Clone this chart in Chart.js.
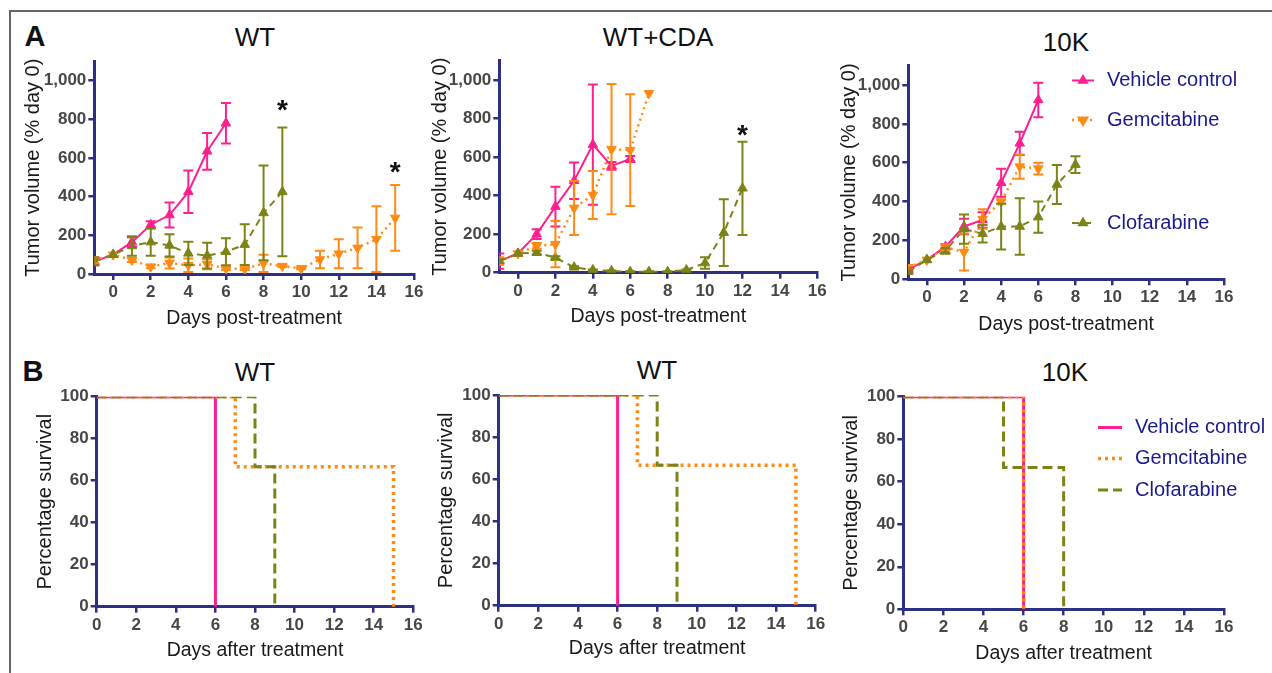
<!DOCTYPE html>
<html>
<head>
<meta charset="utf-8">
<script src="https://cdn.jsdelivr.net/npm/chart.js@4.4.1/dist/chart.umd.min.js"></script>
<style>
  html, body { margin: 0; padding: 0; background: #fff; }
  #page { position: relative; width: 1272px; height: 673px; overflow: hidden; font-family: 'Liberation Sans', Arial, sans-serif; }
  #page canvas { position: absolute; left: 0; top: 0; }
  .frame { position: absolute; left: 9px; top: 10px; width: 1300px; height: 700px; border-top: 2px solid #666; border-left: 2px solid #666; }
  .lbl { position: absolute; transform: translate(-50%, -50%); line-height: 1; white-space: nowrap; color: #111; }
  .title { font-size: 26px; }
  .letter { font-size: 29px; font-weight: bold; }
</style>
</head>
<body>
<div id="page">
  <div class="frame"></div>
  <div class="lbl letter" style="left:35px;top:36px">A</div>
  <div class="lbl letter" style="left:33px;top:371px">B</div>
  <div class="lbl title" style="left:255px;top:37px">WT</div>
  <div class="lbl title" style="left:658px;top:37px">WT+CDA</div>
  <div class="lbl title" style="left:1066px;top:42px">10K</div>
  <div class="lbl title" style="left:255px;top:372px">WT</div>
  <div class="lbl title" style="left:657px;top:370px">WT</div>
  <div class="lbl title" style="left:1065px;top:372px">10K</div>
  <canvas id="a1" width="1272" height="673"></canvas>
  <canvas id="a2" width="1272" height="673"></canvas>
  <canvas id="a3" width="1272" height="673"></canvas>
  <canvas id="b1" width="1272" height="673"></canvas>
  <canvas id="b2" width="1272" height="673"></canvas>
  <canvas id="b3" width="1272" height="673"></canvas>
</div>
<script>
// ---- data: tumor volume (% day 0), mean and error ----
const seriesNames = ['Vehicle control', 'Gemcitabine', 'Clofarabine'];

// WT
const wtVehDays = [-1, 0, 1, 2, 3, 4, 5, 6];
const wtVeh     = [65, 100, 165, 255, 305, 425, 635, 780];
const wtVehErr  = [20, 0, 25, 18, 65, 110, 95, 105];
const wtGemDays = [-1, 0, 1, 2, 3, 4, 5, 6, 7, 8, 9, 10, 11, 12, 13, 14, 15];
const wtGem     = [70, 100, 72, 38, 57, 45, 50, 29, 26, 55, 41, 29, 75, 105, 135, 180, 290];
const wtGemErr  = [15, 0, 10, 8, 28, 35, 25, 8, 5, 45, 5, 5, 45, 75, 105, 170, 170];
const wtClofDays = [-1, 0, 1, 2, 3, 4, 5, 6, 7, 8, 9];
const wtClof     = [65, 100, 145, 165, 148, 107, 95, 115, 152, 316, 425];
const wtClofErr  = [20, 0, 50, 70, 58, 60, 67, 70, 105, 245, 333];
const wtStarDays = [9, 15];
const wtStarVals = [885, 560];

// WT+CDA
const cdaVehDays = [-1, 0, 1, 2, 3, 4, 5, 6];
const cdaVeh     = [60, 100, 200, 343, 477, 665, 554, 590];
const cdaVehErr  = [40, 0, 25, 103, 95, 312, 20, 15];
const cdaGemDays = [-1, 0, 1, 2, 3, 4, 5, 6, 7];
const cdaGem     = [60, 100, 139, 148, 336, 403, 641, 636, 931];
const cdaGemErr  = [20, 0, 15, 120, 140, 125, 338, 290, 0];
const cdaClofDays = [-1, 0, 1, 2, 3, 4, 5, 6, 7, 8, 9, 10, 11, 12];
const cdaClof     = [60, 100, 104, 78, 28, 14, 9, 5, 5, 5, 14, 50, 208, 438];
const cdaClofErr  = [10, 0, 10, 8, 5, 3, 3, 3, 3, 3, 3, 30, 173, 242];
const cdaStarDays = [12];
const cdaStarVals = [750];

// 10K
const kVehDays = [-1, 0, 1, 2, 3, 4, 5, 6];
const kVeh     = [50, 100, 168, 272, 305, 497, 700, 923];
const kVehErr  = [10, 0, 12, 40, 40, 72, 60, 89];
const kGemDays = [-1, 0, 1, 2, 3, 4, 5, 6];
const kGem     = [62, 100, 165, 140, 310, 400, 580, 570];
const kGemErr  = [10, 0, 15, 95, 50, 10, 62, 30];
const kClofDays = [-1, 0, 1, 2, 3, 4, 5, 6, 7, 8];
const kClof     = [40, 100, 147, 258, 235, 271, 272, 320, 488, 590];
const kClofErr  = [10, 0, 15, 75, 45, 118, 145, 80, 100, 43];

// ---- data: survival (%), step points ----
const survWtVehT = [0, 6],     survWtVehS = [100, 0];
const survWtGemT = [0, 7, 15], survWtGemS = [100, 66.7, 0];
const survWtClofT = [0, 8, 9], survWtClofS = [100, 66.7, 0];
const survKVehT = [0, 6],      survKVehS = [100, 0];
const survKGemT = [0, 6],      survKGemS = [100, 0];
const survKClofT = [0, 5, 8],  survKClofS = [100, 66.7, 0];

// ---- styles ----
const navy = '#2d3183';
const colVeh = '#ff1f8e', colGem = '#ff8a14', colClof = '#7d8417';
const legendText = '#1b1b8f';
Chart.defaults.font.family = "'Liberation Sans', Arial, sans-serif";

const pts = (xs, ys) => xs.map((x, i) => ({ x: x, y: ys[i] }));

// error bars drawn from each dataset's errors array
const errorBars = {
    id: 'errorBars',
    afterDatasetsDraw(chart) {
        const ctx = chart.ctx;
        const ys = chart.scales.y;
        const area = chart.chartArea;
        chart.data.datasets.forEach((ds, i) => {
            if (!ds.errors) return;
            const meta = chart.getDatasetMeta(i);
            ctx.save();
            ctx.beginPath();
            ctx.rect(area.left, area.top - 10, area.right - area.left + 10, area.bottom - area.top + 10);
            ctx.clip();
            ctx.strokeStyle = ds.borderColor;
            ctx.lineWidth = 2;
            ctx.setLineDash([]);
            meta.data.forEach((p, j) => {
                const e = ds.errors[j];
                if (!e) return;
                const v = ds.data[j].y;
                const top = ys.getPixelForValue(v + e);
                const bot = ys.getPixelForValue(Math.max(v - e, 0));
                ctx.beginPath();
                ctx.moveTo(p.x, top); ctx.lineTo(p.x, bot);
                ctx.moveTo(p.x - 5, top); ctx.lineTo(p.x + 5, top);
                ctx.moveTo(p.x - 5, bot); ctx.lineTo(p.x + 5, bot);
                ctx.stroke();
            });
            ctx.restore();
        });
    }
};

// significance asterisks placed by value
const stars = {
    id: 'stars',
    afterDatasetsDraw(chart, args, opts) {
        if (!opts.days) return;
        const ctx = chart.ctx;
        ctx.save();
        ctx.fillStyle = '#111';
        ctx.font = "bold 28px 'Liberation Sans', Arial, sans-serif";
        ctx.textAlign = 'center';
        ctx.textBaseline = 'alphabetic';
        opts.days.forEach((d, i) => {
            const x = chart.scales.x.getPixelForValue(d);
            const y = chart.scales.y.getPixelForValue(opts.vals[i]);
            ctx.fillText('*', x, y + 0.56 * 28);
        });
        ctx.restore();
    }
};

// legend drawn next to the lines
const sideLegend = {
    id: 'sideLegend',
    afterDraw(chart, args, opts) {
        if (!opts.ys) return;
        const ctx = chart.ctx;
        chart.data.datasets.forEach((ds, i) => {
            const y = opts.ys[i];
            ctx.save();
            ctx.strokeStyle = ds.borderColor;
            ctx.fillStyle = ds.borderColor;
            ctx.lineWidth = ds.borderWidth;
            ctx.setLineDash(ds.borderDash || []);
            ctx.beginPath();
            ctx.moveTo(opts.x, y);
            ctx.lineTo(opts.x + opts.len, y);
            ctx.stroke();
            ctx.setLineDash([]);
            if (opts.markers) {
                Chart.helpers.drawPoint(ctx, { pointStyle: 'triangle', rotation: ds.pointRotation || 0, radius: 4.5, borderWidth: 1 }, opts.x + opts.len / 2, y);
            }
            ctx.fillStyle = legendText;
            ctx.font = "20px 'Liberation Sans', Arial, sans-serif";
            ctx.textAlign = 'left';
            ctx.textBaseline = 'middle';
            ctx.fillText(ds.label, opts.textX, y);
            ctx.restore();
        });
    }
};

function tumorSets(vd, v, ve, gd, g, ge, cd, c, ce) {
    return [
        { label: seriesNames[0], data: pts(vd, v), errors: ve, borderColor: colVeh, backgroundColor: colVeh,
          borderWidth: 2, pointStyle: 'triangle', pointRadius: 5.5, pointBorderWidth: 1, order: 3 },
        { label: seriesNames[1], data: pts(gd, g), errors: ge, borderColor: colGem, backgroundColor: colGem,
          borderWidth: 2.5, borderDash: [2, 4], pointStyle: 'triangle', pointRotation: 180, pointRadius: 5.5, pointBorderWidth: 1, order: 2 },
        { label: seriesNames[2], data: pts(cd, c), errors: ce, borderColor: colClof, backgroundColor: colClof,
          borderWidth: 2, borderDash: [7, 5], pointStyle: 'triangle', pointRadius: 5.5, pointBorderWidth: 1, order: 1 }
    ];
}

function survSets(vt, vs, gt, gs, ct, cs) {
    return [
        { label: seriesNames[0], data: pts(vt, vs), borderColor: colVeh, backgroundColor: colVeh,
          borderWidth: 3, stepped: 'before', pointRadius: 0, order: 3 },
        { label: seriesNames[1], data: pts(gt, gs), borderColor: colGem, backgroundColor: colGem,
          borderWidth: 3.5, borderDash: [3, 4], stepped: 'before', pointRadius: 0, order: 2 },
        { label: seriesNames[2], data: pts(ct, cs), borderColor: colClof, backgroundColor: colClof,
          borderWidth: 3, borderDash: [10, 5], stepped: 'before', pointRadius: 0, order: 1 }
    ];
}

// box: chart area edges and axis-title centres, in page pixels
function panelOptions(box, xMin, yMax, yStep, xTitle, yTitle, extra) {
    const lhY = 20 * 1.2, lhX = 19.5 * 1.2;
    const yW = box.cl - box.ytx + lhY / 2;
    const xH = box.xty + lhX / 2 - box.cb;
    const tickFont = { size: 17, weight: 'bold' };
    return {
        responsive: false,
        animation: false,
        devicePixelRatio: 1,
        layout: { padding: { left: box.cl - yW, right: 1272 - box.cr, top: box.ct, bottom: 673 - box.cb - xH } },
        plugins: Object.assign({ legend: { display: false }, tooltip: { enabled: false } }, extra),
        scales: {
            x: {
                type: 'linear', min: xMin, max: 16,
                afterFit: s => { s.height = xH; },
                border: { color: navy, width: 3 },
                grid: { drawOnChartArea: false, color: navy, lineWidth: 2.5, tickLength: 6 },
                ticks: { stepSize: 2, includeBounds: false, color: '#474747', font: tickFont, padding: 2, maxRotation: 0, autoSkip: false },
                title: { display: true, text: xTitle, color: '#1a1a1a', font: { size: 19.5 }, padding: 0 }
            },
            y: {
                min: 0, max: yMax,
                afterFit: s => { s.width = yW; },
                border: { color: navy, width: 3 },
                grid: { drawOnChartArea: false, color: navy, lineWidth: 2.5, tickLength: 6 },
                ticks: { stepSize: yStep, includeBounds: false, color: '#474747', font: tickFont, padding: 2 },
                title: { display: true, text: yTitle, color: '#1a1a1a', font: { size: 20 }, padding: 0 }
            }
        }
    };
}

const plugins = [errorBars, stars, sideLegend];
const tumorY = 'Tumor volume (% day 0)', tumorX = 'Days post-treatment';
const survY = 'Percentage survival', survX = 'Days after treatment';

new Chart(document.getElementById('a1'), {
    type: 'line',
    data: { datasets: tumorSets(wtVehDays, wtVeh, wtVehErr, wtGemDays, wtGem, wtGemErr, wtClofDays, wtClof, wtClofErr) },
    options: panelOptions({ cl: 94.3, cr: 414, ct: 61.4, cb: 274, ytx: 33, xty: 319 }, -1, 1100, 200, tumorX, tumorY,
        { stars: { days: wtStarDays, vals: wtStarVals } }),
    plugins: plugins
});

new Chart(document.getElementById('a2'), {
    type: 'line',
    data: { datasets: tumorSets(cdaVehDays, cdaVeh, cdaVehErr, cdaGemDays, cdaGem, cdaGemErr, cdaClofDays, cdaClof, cdaClofErr) },
    options: panelOptions({ cl: 499.3, cr: 817.3, ct: 60.7, cb: 272.7, ytx: 440, xty: 316.7 }, -1, 1100, 200, tumorX, tumorY,
        { stars: { days: cdaStarDays, vals: cdaStarVals } }),
    plugins: plugins
});

new Chart(document.getElementById('a3'), {
    type: 'line',
    data: { datasets: tumorSets(kVehDays, kVeh, kVehErr, kGemDays, kGem, kGemErr, kClofDays, kClof, kClofErr) },
    options: panelOptions({ cl: 908.3, cr: 1224, ct: 65.6, cb: 279.3, ytx: 849, xty: 325 }, -1, 1100, 200, tumorX, tumorY,
        { sideLegend: { x: 1072, len: 22, textX: 1107, ys: [80.5, 120, 223], markers: true } }),
    plugins: plugins
});

new Chart(document.getElementById('b1'), {
    type: 'line',
    data: { datasets: survSets(survWtVehT, survWtVehS, survWtGemT, survWtGemS, survWtClofT, survWtClofS) },
    options: panelOptions({ cl: 96.7, cr: 413.3, ct: 396.7, cb: 606.7, ytx: 45.5, xty: 650.5 }, 0, 100, 20, survX, survY, {}),
    plugins: plugins
});

new Chart(document.getElementById('b2'), {
    type: 'line',
    data: { datasets: survSets(survWtVehT, survWtVehS, survWtGemT, survWtGemS, survWtClofT, survWtClofS) },
    options: panelOptions({ cl: 498.7, cr: 815.7, ct: 395, cb: 605.7, ytx: 446.7, xty: 649 }, 0, 100, 20, survX, survY, {}),
    plugins: plugins
});

new Chart(document.getElementById('b3'), {
    type: 'line',
    data: { datasets: survSets(survKVehT, survKVehS, survKGemT, survKGemS, survKClofT, survKClofS) },
    options: panelOptions({ cl: 903.3, cr: 1224, ct: 396.7, cb: 609.3, ytx: 851.7, xty: 654 }, 0, 100, 20, survX, survY,
        { sideLegend: { x: 1098, len: 24, textX: 1135, ys: [427.5, 458.5, 490], markers: false } }),
    plugins: plugins
});
</script>
</body>
</html>
